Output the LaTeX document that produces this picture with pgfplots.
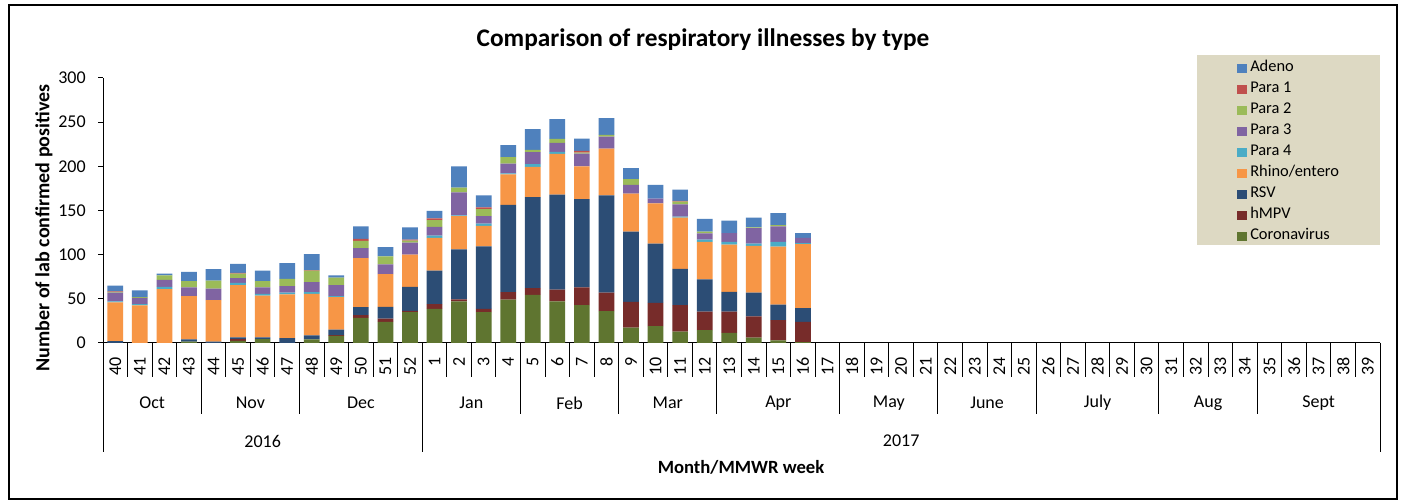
\documentclass[border=0pt]{standalone}
\usepackage{pgfplots}
\pgfplotsset{compat=1.18}
\usepackage{pgfplotstable}
\usepackage{fontspec}
\setmainfont{Carlito}
\definecolor{cAdeno}{HTML}{4F81BD}
\definecolor{cParaA}{HTML}{C0504D}
\definecolor{cParaB}{HTML}{9BBB59}
\definecolor{cParaC}{HTML}{8064A2}
\definecolor{cParaD}{HTML}{4BACC6}
\definecolor{cRhino}{HTML}{F79646}
\definecolor{cRSV}{HTML}{2C4D75}
\definecolor{chMPV}{HTML}{772C2A}
\definecolor{cCor}{HTML}{5F7530}
\definecolor{legbg}{HTML}{DDD9C3}
\pgfplotstableread{
idx Cor hMPV RSV Rhino Para4 Para3 Para2 Para1 Adeno
0 0 0 2 44 1 10 1 0.5 6.5
1 0 0 0 42.5 1.5 7 1 0 7.5
2 0 0 0 61 2.5 8 5 0 2
3 1.5 0 2.5 49 0 10 7 0 10.5
4 0 0 1.5 47 0 13 9 0 13
5 2.5 2 2 59 2.5 5.5 5 1 10
6 4.5 0 2 47 2 7.5 7 0 12
7 0 0 5.5 49.5 2 7.5 8 0 18
8 4 0 4.5 47 2 11.5 13 0.5 18
9 8 1 6 37 1 12.5 8.5 0 2.5
10 28.5 3 9 55.5 0 11.5 8 2.5 14
11 24 3.5 13.5 37 0 11 9 0 10.5
12 35 1.5 27 36.5 0 13.5 2.5 1 14
13 38.5 5.5 38 37 2.5 10 7.5 2 8.5
14 47 2.5 56.5 37.5 1 26 5.5 0 24
15 35 3.5 71 23 2.5 8.5 8 2 13.5
16 49 8.5 99 34.5 1 11 7.5 0 13.5
17 54.5 7.5 103 34.5 3 13.5 2.5 0 23.5
18 47 13.5 107.5 46 2.5 10 4.5 0 22.5
19 43 20 100 37 0 14.5 1 2 14
20 36 21 110 53 0 13.5 2 0 19
21 17.5 29 79.5 43 0 10 6.5 0 12.5
22 19 26.5 67 45.5 0 5.5 0 0 15.5
23 13 30 41 58 1 14 3 1 12.5
24 14.5 21 36.5 42.5 2.5 7 2 0 14.5
25 11.5 24 22.5 53.5 3 10 0 0 14
26 6 24 27 53 2.5 17.5 1 0 11
27 3 23 17.5 65.5 5.5 17.5 1.5 0 13.5
28 1 23 15.5 72.5 1 6 0 0 5.5
}\data
\pgfplotsset{sq/.style={legend image code/.code={\fill[##1,draw=none] (0pt,-3.4pt) rectangle (7.5pt,3.4pt);}}}
\begin{document}
\begin{tikzpicture}[x=0.75pt,y=0.75pt]
\useasboundingbox (0,0) rectangle (1405,502);
\fill[white] (0,0) rectangle (1405,502);
\draw[line width=1.5pt] (9,3) rectangle (1397,497);
\fill[legbg] (1197,257) rectangle (1380,447);
\node[font=\bfseries\fontsize{19}{22}\selectfont] at (703,462) {Comparison of respiratory illnesses by type};
\node[rotate=90,font=\bfseries\fontsize{15}{18}\selectfont] at (44,274) {Number of lab confirmed positives};
\node[font=\bfseries\fontsize{14}{17}\selectfont] at (741,35) {Month/MMWR week};
\begin{axis}[
  at={(77.25pt,119.25pt)}, anchor=south west,
  width=957.75pt, height=198.75pt, scale only axis,
  ybar stacked, bar width=0.64,
  xmin=-0.5, xmax=51.5, ymin=0, ymax=300,
  ytick={0,50,...,300},
  xtick={0,...,51},
  xticklabels={40,41,42,43,44,45,46,47,48,49,50,51,52,1,2,3,4,5,6,7,8,9,10,11,12,13,14,15,16,17,18,19,20,21,22,23,24,25,26,27,28,29,30,31,32,33,34,35,36,37,38,39},
  axis x line*=bottom, axis y line*=left,
  axis line style={black, line width=0.75pt},
  tick align=outside, major tick length=3.75pt,
  ytick style={black, line width=0.75pt},
  xtick style={draw=none},
  /pgf/number format/assume math mode=true,
  tick label style={font=\fontsize{13.5}{16}\selectfont},
  yticklabel style={inner sep=0pt, xshift=-9pt},
  xticklabel style={yshift=-7pt, rotate=90, anchor=east, inner sep=0pt},
  clip=false,
  reverse legend,
  legend cell align=left,
  legend style={at={(0.888,1.064)}, anchor=north west, draw=none, fill=none, inner sep=0pt,
    font=\fontsize{12.3}{14}\selectfont, row sep=5.25pt, column sep=2.25pt,
    nodes={inner sep=0pt, text height=8pt, text depth=2.5pt}},
]
\addplot[fill=cCor, draw=none, sq] table[x=idx, y=Cor] {\data};
\addlegendentry{Coronavirus}
\addplot[fill=chMPV, draw=none, sq] table[x=idx, y=hMPV] {\data};
\addlegendentry{hMPV}
\addplot[fill=cRSV, draw=none, sq] table[x=idx, y=RSV] {\data};
\addlegendentry{RSV}
\addplot[fill=cRhino, draw=none, sq] table[x=idx, y=Rhino] {\data};
\addlegendentry{Rhino/entero}
\addplot[fill=cParaD, draw=none, sq] table[x=idx, y=Para4] {\data};
\addlegendentry{Para 4}
\addplot[fill=cParaC, draw=none, sq] table[x=idx, y=Para3] {\data};
\addlegendentry{Para 3}
\addplot[fill=cParaB, draw=none, sq] table[x=idx, y=Para2] {\data};
\addlegendentry{Para 2}
\addplot[fill=cParaA, draw=none, sq] table[x=idx, y=Para1] {\data};
\addlegendentry{Para 1}
\addplot[fill=cAdeno, draw=none, sq] table[x=idx, y=Adeno] {\data};
\addlegendentry{Adeno}
\pgfplotsinvokeforeach{-0.5,0.5,...,51.5}{\draw[black, line width=0.75pt] (axis cs:#1,0) -- ++(0pt,-25.5pt);}
\pgfplotsinvokeforeach{-0.5,3.5,7.5,12.5,16.5,20.5,24.5,29.5,33.5,37.5,42.5,46.5,51.5}{\draw[black, line width=0.75pt] (axis cs:#1,0) -- ++(0pt,-53.25pt);}
\pgfplotsinvokeforeach{-0.5,12.5,51.5}{\draw[black, line width=0.75pt] (axis cs:#1,0) -- ++(0pt,-81.75pt);}
\path[font=\fontsize{13.5}{16}\selectfont]
  (axis cs:1.5,0) node[yshift=-45pt] {Oct}
  (axis cs:5.5,0) node[yshift=-45pt] {Nov}
  (axis cs:10,0) node[yshift=-45pt] {Dec}
  (axis cs:14.5,0) node[yshift=-45pt] {Jan}
  (axis cs:18.5,0) node[yshift=-45pt] {Feb}
  (axis cs:22.5,0) node[yshift=-45pt] {Mar}
  (axis cs:27,0) node[yshift=-45pt] {Apr}
  (axis cs:31.5,0) node[yshift=-45pt] {May}
  (axis cs:35.5,0) node[yshift=-45pt] {June}
  (axis cs:40,0) node[yshift=-45pt] {July}
  (axis cs:44.5,0) node[yshift=-45pt] {Aug}
  (axis cs:49,0) node[yshift=-45pt] {Sept}
  (axis cs:6,0) node[yshift=-73.5pt] {2016}
  (axis cs:32,0) node[yshift=-73.5pt] {2017};
\end{axis}
\end{tikzpicture}
\end{document}
